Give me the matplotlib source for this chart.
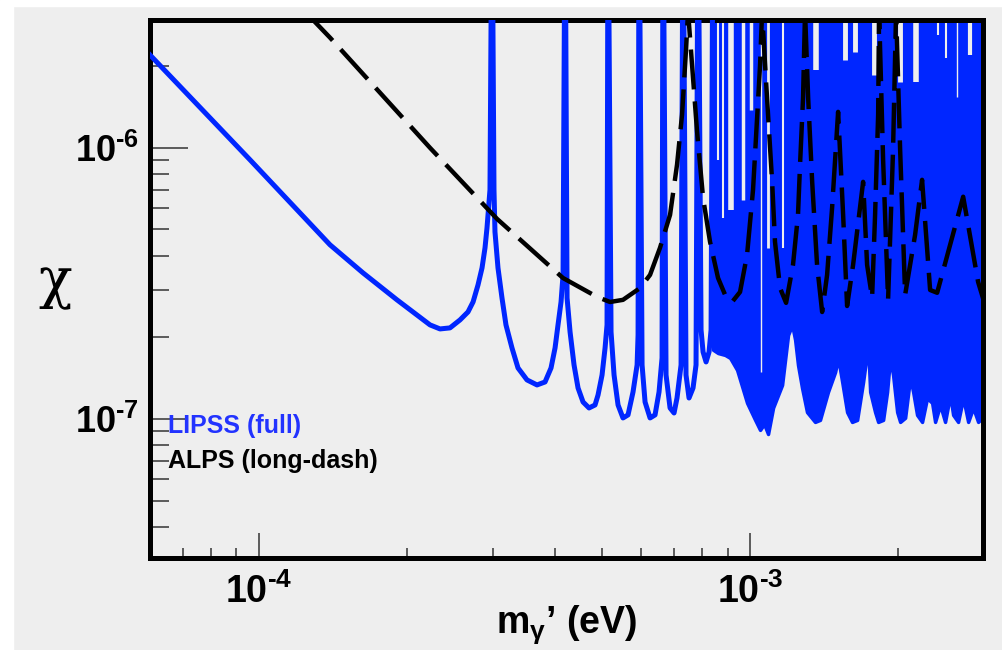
import matplotlib.pyplot as plt
from matplotlib.patches import Rectangle
from matplotlib.ticker import NullFormatter

plt.rcParams['font.family'] = ['Liberation Sans', 'DejaVu Sans']
plt.rcParams['mathtext.fontset'] = 'custom'
plt.rcParams['mathtext.rm'] = 'Liberation Sans:bold'
plt.rcParams['mathtext.bf'] = 'Liberation Sans:bold'
plt.rcParams['mathtext.it'] = 'Liberation Sans:italic'

# ---- data ----
TOP = 1e-5  # spikes run off the top of the frame

# LIPSS, resolved part (smooth fall + first resonances)
m_lipss = [6.00e-5, 9.59e-5, 1.395e-4, 1.628e-4, 1.91e-4, 2.23e-4, 2.337e-4, 2.449e-4,
           2.567e-4, 2.665e-4, 2.729e-4, 2.793e-4, 2.846e-4, 2.886e-4, 2.913e-4,
           2.954e-4, 2.982e-4, 3.010e-4, 3.024e-4, 3.067e-4, 3.125e-4, 3.184e-4,
           3.275e-4, 3.369e-4, 3.514e-4, 3.683e-4, 3.824e-4, 3.933e-4, 4.008e-4,
           4.064e-4, 4.122e-4, 4.161e-4, 4.201e-4, 4.240e-4, 4.300e-4, 4.381e-4,
           4.464e-4, 4.570e-4, 4.700e-4, 4.834e-4, 4.903e-4, 4.996e-4, 5.067e-4,
           5.114e-4, 5.138e-4, 5.211e-4, 5.285e-4, 5.385e-4, 5.511e-4, 5.643e-4,
           5.777e-4, 5.888e-4, 5.915e-4, 5.943e-4, 6.027e-4, 6.112e-4, 6.257e-4,
           6.405e-4, 6.526e-4, 6.619e-4, 6.650e-4, 6.744e-4, 6.872e-4, 7.002e-4,
           7.100e-4, 7.236e-4, 7.304e-4, 7.406e-4, 7.511e-4, 7.654e-4, 7.762e-4,
           7.836e-4, 7.947e-4, 8.022e-4, 8.136e-4, 8.251e-4, 8.329e-4, 8.406e-4]
chi_lipss = [2.20e-6, 9.03e-7, 4.39e-7, 3.46e-7, 2.75e-7, 2.223e-7, 2.148e-7, 2.167e-7,
             2.319e-7, 2.482e-7, 2.702e-7, 3.122e-7, 3.607e-7, 4.276e-7, 5.068e-7,
             7.0e-7, TOP, 7.0e-7, 4.898e-7, 3.607e-7, 2.796e-7, 2.223e-7,
             1.828e-7, 1.542e-7, 1.393e-7, 1.335e-7, 1.369e-7, 1.542e-7, 1.828e-7,
             2.223e-7, 2.702e-7, 3.400e-7, TOP, 2.796e-7, 2.094e-7, 1.582e-7,
             1.301e-7, 1.155e-7, 1.098e-7, 1.126e-7, 1.226e-7, 1.453e-7, 1.828e-7,
             2.223e-7, TOP, 2.094e-7, 1.453e-7, 1.126e-7, 1.0085e-7, 1.035e-7,
             1.258e-7, 1.582e-7, 2.041e-7, TOP, 1.582e-7, 1.155e-7, 1.0085e-7,
             1.035e-7, 1.258e-7, 1.679e-7, TOP, 1.453e-7, 1.098e-7, 1.052e-7,
             1.195e-7, 1.582e-7, TOP, 1.453e-7, 1.195e-7, 1.301e-7, 1.582e-7,
             TOP, 2.13e-7, 1.767e-7, 1.623e-7, 1.767e-7, 2.13e-7, TOP]

# LIPSS, unresolved fast oscillations: lower envelope of the blue band
m_dense = [8.406e-4, 8.606e-4, 8.895e-4, 9.107e-4, 9.409e-4, 9.86e-4, 1.024e-3, 1.048e-3,
           1.068e-3, 1.088e-3, 1.114e-3, 1.162e-3, 1.195e-3, 1.218e-3, 1.235e-3, 1.252e-3,
           1.276e-3, 1.306e-3, 1.356e-3, 1.388e-3, 1.441e-3, 1.49e-3, 1.511e-3,
           1.54e-3, 1.576e-3, 1.613e-3, 1.652e-3, 1.699e-3, 1.739e-3, 1.756e-3,
           1.797e-3, 1.823e-3, 1.866e-3, 1.901e-3, 1.928e-3, 1.955e-3, 1.993e-3,
           2.021e-3, 2.069e-3, 2.118e-3, 2.148e-3, 2.188e-3, 2.24e-3, 2.293e-3,
           2.348e-3, 2.381e-3, 2.438e-3, 2.495e-3, 2.555e-3, 2.591e-3, 2.652e-3,
           2.716e-3, 2.78e-3, 2.846e-3, 2.913e-3, 3.01e-3]
chi_dense = [1.80e-7, 1.75e-7, 1.722e-7, 1.679e-7, 1.516e-7, 1.146e-7, 9.92e-8, 9.11e-8,
             9.58e-8, 8.80e-8, 1.10e-7, 1.335e-7, 2.04e-7, 2.22e-7, 1.96e-7, 1.58e-7,
             1.30e-7, 1.06e-7, 9.75e-8, 9.92e-8, 1.258e-7, 1.49e-7, 1.679e-7,
             1.37e-7, 1.06e-7, 9.75e-8, 9.92e-8, 1.37e-7, 1.875e-7, 1.258e-7,
             1.06e-7, 9.75e-8, 9.92e-8, 1.258e-7, 1.679e-7, 1.453e-7, 1.06e-7,
             9.75e-8, 1.01e-7, 1.42e-7, 1.258e-7, 1.035e-7, 9.75e-8, 1.195e-7,
             1.146e-7, 9.75e-8, 1.126e-7, 9.75e-8, 1.226e-7, 1.035e-7, 9.75e-8,
             1.195e-7, 9.75e-8, 1.10e-7, 9.75e-8, 1.035e-7]

# gaps in the blue band (background showing through), lower end of each gap
m_gap = [8.606e-4, 8.81e-4, 9.15e-4, 9.676e-4, 1.005e-3, 1.053e-3, 1.088e-3, 1.167e-3,
         1.363e-3, 1.561e-3, 1.636e-3, 1.789e-3, 2.021e-3, 2.178e-3, 2.415e-3,
         2.507e-3, 2.64e-3, 2.806e-3]
chi_gap = [9.03e-7, 5.52e-7, 5.90e-7, 6.43e-7, 1.381e-6, 1.49e-7, 4.28e-7, 4.28e-7,
           1.94e-6, 2.11e-6, 2.26e-6, 1.86e-6, 1.75e-6, 1.75e-6, 2.61e-6,
           2.15e-6, 1.54e-6, 2.20e-6]

# ALPS (long dash)
m_alps = [1.241e-4, 1.395e-4, 2.23e-4, 3.053e-4, 4.16e-4, 4.88e-4, 5.187e-4, 5.511e-4,
          5.97e-4, 6.257e-4, 6.556e-4, 6.872e-4, 7.10e-4, 7.269e-4, 7.406e-4,
          7.477e-4, 7.619e-4, 7.80e-4, 8.022e-4, 8.289e-4, 8.606e-4, 8.895e-4,
          9.191e-4, 9.541e-4, 9.86e-4, 1.014e-3, 1.033e-3, 1.048e-3, 1.058e-3,
          1.073e-3, 1.088e-3, 1.109e-3, 1.124e-3, 1.151e-3, 1.184e-3, 1.223e-3,
          1.252e-3, 1.264e-3, 1.282e-3, 1.294e-3, 1.313e-3, 1.338e-3, 1.369e-3,
          1.402e-3, 1.435e-3, 1.469e-3, 1.511e-3, 1.547e-3, 1.576e-3, 1.621e-3,
          1.699e-3, 1.731e-3, 1.772e-3, 1.797e-3, 1.823e-3, 1.831e-3, 1.866e-3,
          1.91e-3, 1.955e-3, 1.983e-3, 2.021e-3, 2.069e-3, 2.168e-3, 2.24e-3,
          2.326e-3, 2.404e-3, 2.555e-3, 2.716e-3, 2.913e-3, 3.01e-3]
chi_alps = [3.18e-6, 2.55e-6, 1.0e-6, 5.47e-7, 3.31e-7, 2.82e-7, 2.70e-7, 2.75e-7,
            3.04e-7, 3.40e-7, 4.28e-7, 5.66e-7, 8.66e-7, 1.324e-6, 2.30e-6,
            3.18e-6, 2.02e-6, 1.146e-6, 6.54e-7, 4.50e-7, 3.31e-7, 2.87e-7,
            2.70e-7, 2.94e-7, 4.03e-7, 7.0e-7, 1.269e-6, 2.02e-6, 3.18e-6,
            2.02e-6, 1.324e-6, 7.49e-7, 4.50e-7, 3.04e-7, 2.68e-7, 3.70e-7,
            5.66e-7, 8.66e-7, 1.53e-6, 3.18e-6, 1.53e-6, 7.49e-7, 3.70e-7,
            2.48e-7, 3.40e-7, 6.01e-7, 1.357e-6, 5.66e-7, 2.61e-7, 3.70e-7,
            7.49e-7, 3.70e-7, 2.80e-7, 5.66e-7, 1.324e-6, 3.18e-6, 9.03e-7,
            2.75e-7, 9.83e-7, 3.18e-6, 9.83e-7, 2.87e-7, 4.78e-7, 7.62e-7,
            2.99e-7, 2.92e-7, 4.39e-7, 6.60e-7, 3.20e-7, 2.63e-7]

x_major = [1e-4, 1e-3]
x_major_labels = ['$\\mathbf{10^{\u2010 4}}$', '$\\mathbf{10^{\u2010 3}}$']
y_major = [1e-7, 1e-6]
y_major_labels = ['$\\mathbf{10^{\u2010 7}}$', '$\\mathbf{10^{\u2010 6}}$']

# ---- figure ----
BG = '#eeeeee'
BLUE = '#0026ff'

fig = plt.figure(figsize=(10.02, 6.5), dpi=100, facecolor=BG)
fig.add_artist(Rectangle((0, 0), 13 / 1002, 1, transform=fig.transFigure,
                         color='white', zorder=-5))
fig.add_artist(Rectangle((0, 1 - 6 / 650), 1, 6 / 650, transform=fig.transFigure,
                         color='white', zorder=-5))

ax = fig.add_axes([0.1497, 0.1415, 0.8313, 0.8277])
ax.set_facecolor(BG)
ax.set_xscale('log')
ax.set_yscale('log')

ax.fill_between(m_dense, chi_dense, TOP, color=BLUE, lw=2.5, zorder=2)
ax.vlines(m_gap, chi_gap, TOP, colors=BG,
          linewidths=[1.5, 1.5, 4, 2.5, 2.5, 1, 2, 1.5, 4, 3.5, 3.5, 3.5, 3.5, 4,
                      1.5, 1.5, 1, 3],
          zorder=2.5)
ax.plot(m_lipss, chi_lipss, color=BLUE, lw=3.6, zorder=3)
ax.plot(m_alps, chi_alps, color='black', lw=3.2, dashes=(9, 2.7), zorder=4)

ax.set_xlim(6.0e-5, 2.98e-3)
ax.set_ylim(3.07e-8, 2.96e-6)

ax.set_xticks(x_major)
ax.set_xticklabels(x_major_labels)
ax.set_yticks(y_major)
ax.set_yticklabels(y_major_labels)
ax.xaxis.set_minor_formatter(NullFormatter())
ax.yaxis.set_minor_formatter(NullFormatter())

ax.tick_params(which='both', direction='in', top=False, right=False,
               color='#333333', width=1.1)
ax.tick_params(axis='x', which='major', length=18, pad=11, labelsize=27)
ax.tick_params(axis='x', which='minor', length=7.5)
ax.tick_params(axis='y', which='major', length=27, pad=8, labelsize=26)
ax.tick_params(axis='y', which='minor', length=13.5)

for sp in ax.spines.values():
    sp.set_linewidth(3.6)
    sp.set_color('black')

ax.text(0.0216, 0.2323, 'LIPSS (full)', color='#2233ff', fontsize=18,
        fontweight='bold', transform=ax.transAxes, va='baseline', zorder=5)
ax.text(0.0216, 0.167, 'ALPS (long-dash)', color='black', fontsize=18,
        fontweight='bold', transform=ax.transAxes, va='baseline', zorder=5)

fig.text(55 / 1002, 1 - 283 / 650, '\u03c7', fontsize=40, family='DejaVu Serif',
         ha='center', va='center')
fig.text(567 / 1002, 1 - 633 / 650, 'm$_{\\mathrm{\\gamma}}$\u2019 (eV)', fontsize=27,
         fontweight='bold', ha='center', va='baseline')

fig.savefig('out.png', dpi=100, facecolor=fig.get_facecolor())
